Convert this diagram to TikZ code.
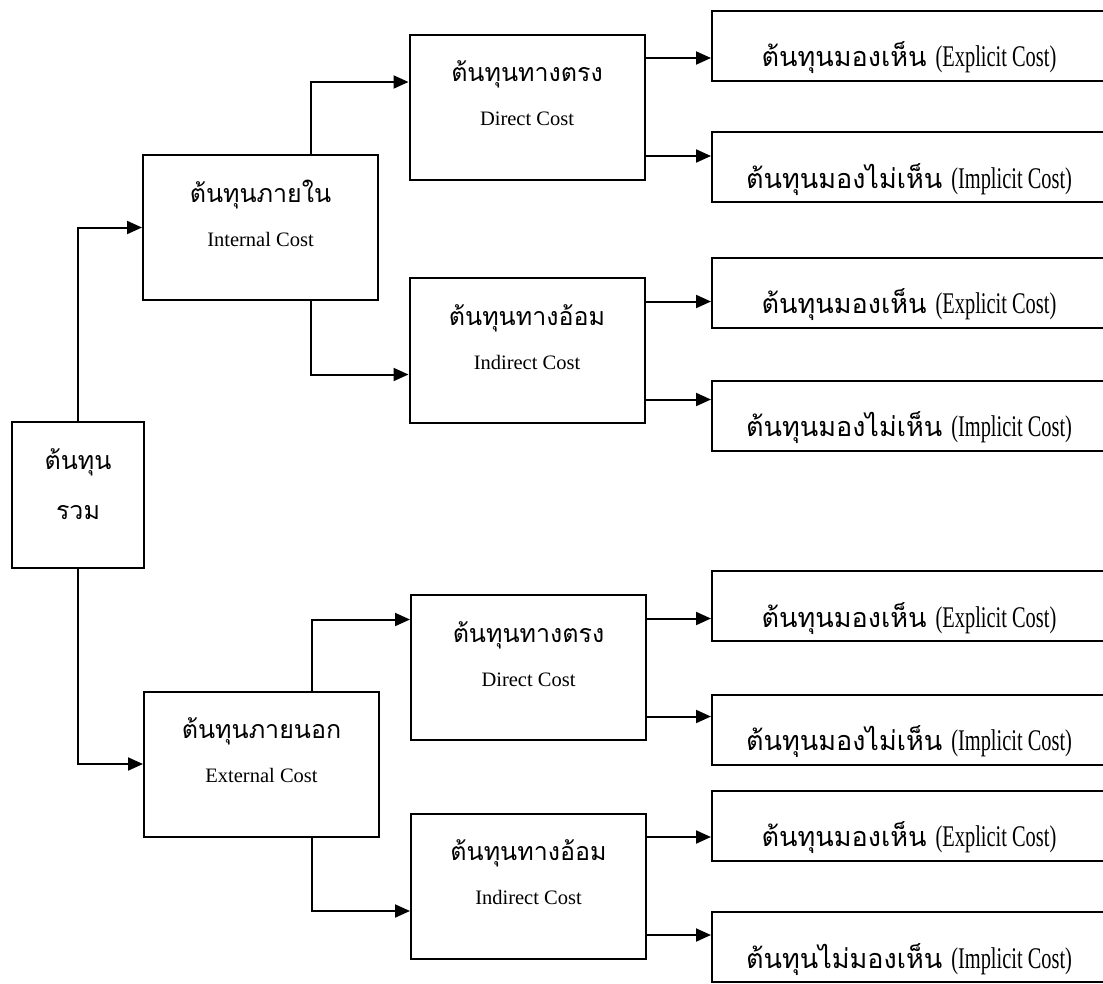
\documentclass[tikz,border=0pt]{standalone}
\usepackage{fontspec}
\setmainfont{Liberation Serif}
\newfontfamily\thfont[Script=Thai]{Loma}
\newfontfamily\narrowfont[FakeStretch=0.68]{Liberation Serif}
\usetikzlibrary{arrows.meta,positioning,calc}

\newcommand{\costtext}[2]{{\fontsize{27}{32}\thfont #1}\hspace{9pt}{\fontsize{30}{34}\narrowfont #2}}

\begin{document}
\begin{tikzpicture}[
  x=1pt, y=-1pt,
  box/.style={draw, line width=2pt, inner sep=0pt},
  totbox/.style={box, minimum width=132pt, minimum height=146pt},
  midbox/.style={box, minimum width=235pt, minimum height=145pt},
  costbox/.style={box, anchor=west, minimum width=394pt, text height=56pt, text depth=14pt},
  thtext/.style={anchor=base, inner sep=0pt, font=\fontsize{25}{30}\thfont},
  entext/.style={anchor=base, inner sep=0pt, font=\fontsize{20.5}{24}\selectfont},
  arrow/.style={-{Triangle[length=15pt,width=13pt]}, line width=2pt}
]
\clip (0,0) rectangle (1103,983);

\node[totbox] (tot) at (78,495) {};
\node[midbox] (int) at (260.5,227.5) {};
\node[midbox] (ext) at (261.5,764) {};
\node[midbox] (dt1) at (527,107) {};
\node[midbox] (it1) at (527,350.5) {};
\node[midbox] (dt2) at (528.5,667.5) {};
\node[midbox] (it2) at (528.5,886) {};

\node[costbox] (e1) at (711,45.5) {\costtext{ต้นทุนมองเห็น}{(Explicit Cost)}};
\node[costbox] (i1) at (711,167) {\costtext{ต้นทุนมองไม่เห็น}{(Implicit Cost)}};
\node[costbox] (e2) at (711,292.5) {\costtext{ต้นทุนมองเห็น}{(Explicit Cost)}};
\node[costbox] (i2) at (711,415.5) {\costtext{ต้นทุนมองไม่เห็น}{(Implicit Cost)}};
\node[costbox] (e3) at (711,606) {\costtext{ต้นทุนมองเห็น}{(Explicit Cost)}};
\node[costbox] (i3) at (711,729.5) {\costtext{ต้นทุนมองไม่เห็น}{(Implicit Cost)}};
\node[costbox] (e4) at (711,825.5) {\costtext{ต้นทุนมองเห็น}{(Explicit Cost)}};
\node[costbox] (i4) at (711,947) {\costtext{ต้นทุนไม่มองเห็น}{(Implicit Cost)}};

% text in the boxes
\node[thtext] (tot-a) at ([yshift=-48pt]tot.north) {ต้นทุน};
\node[thtext] (tot-b) at ([yshift=-98pt]tot.north) {รวม};
\foreach \n/\th/\en in {int/ต้นทุนภายใน/Internal Cost, ext/ต้นทุนภายนอก/External Cost,
    dt1/ต้นทุนทางตรง/Direct Cost, it1/ต้นทุนทางอ้อม/Indirect Cost,
    dt2/ต้นทุนทางตรง/Direct Cost, it2/ต้นทุนทางอ้อม/Indirect Cost} {
  \node[thtext] (\n-th) at ([yshift=-48pt]\n.north) {\th};
  \node[entext] (\n-en) at ([yshift=-92pt]\n.north) {\en};
}

\draw[arrow] (tot.north) |- (int.west);
\draw[arrow] (tot.south) |- (ext.west);
\draw[arrow] ([xshift=50.5pt]int.north) |- ([yshift=25pt]dt1.west);
\draw[arrow] ([xshift=50.5pt]int.south) |- ([yshift=-24pt]it1.west);
\draw[arrow] ([xshift=50.5pt]ext.north) |- ([yshift=48pt]dt2.west);
\draw[arrow] ([xshift=50.5pt]ext.south) |- ([yshift=-25pt]it2.west);

% out to the right
\foreach \a/\b/\c in {dt1/e1/i1, it1/e2/i2, dt2/e3/i3, it2/e4/i4} {
  \draw[arrow] ([yshift=49pt]\a.east) -- ([yshift=49pt]\a.east -| \b.west);
  \draw[arrow] ([yshift=-49pt]\a.east) -- ([yshift=-49pt]\a.east -| \c.west);
}
\end{tikzpicture}
\end{document}
